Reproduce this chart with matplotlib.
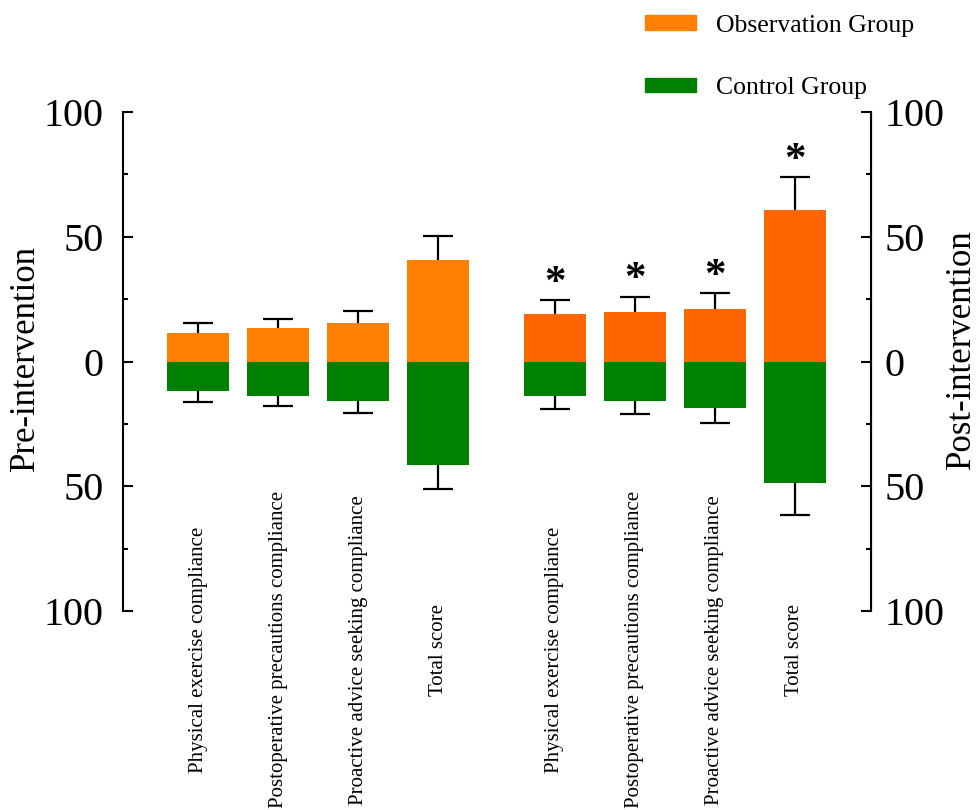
import matplotlib
matplotlib.use("Agg")
import matplotlib.pyplot as plt
import numpy as np
from matplotlib.patches import Patch
from matplotlib.ticker import MultipleLocator

plt.rcParams["font.family"] = ["Liberation Serif", "DejaVu Serif"]

categories = [
    "Physical exercise compliance",
    "Postoperative precautions compliance",
    "Proactive advice seeking compliance",
    "Total score",
]

# means and SD (error bar length)
pre_obs = [11.5, 13.5, 15.6, 40.7]
pre_obs_sd = [4.0, 3.6, 4.7, 9.6]
pre_ctrl = [11.7, 13.7, 15.7, 41.3]
pre_ctrl_sd = [4.6, 4.0, 5.0, 10.0]

post_obs = [19.2, 20.0, 21.1, 60.7]
post_obs_sd = [5.5, 6.0, 6.2, 13.2]
post_ctrl = [14.0, 15.9, 18.7, 48.8]
post_ctrl_sd = [5.1, 5.2, 5.8, 12.8]

post_significant = [True, True, True, True]

yticks = [100, 50, 0, -50, -100]
ytick_labels = ["100", "50", "0", "50", "100"]

PRE_ORANGE = "#ff7f00"
POST_ORANGE = "#ff6600"
GREEN = "#008000"

fig = plt.figure(figsize=(9.77, 8.10), dpi=100)
ax = fig.add_axes([0.1259, 0.2457, 0.7656, 0.616])

n = len(categories)
x_pre = np.arange(n)
x_post = np.arange(n) + n + 0.46
width = 0.775
cap = 0.19


def draw_group(xs, obs, obs_sd, ctrl, ctrl_sd, obs_color):
    obs = np.asarray(obs)
    ctrl = np.asarray(ctrl)
    ax.bar(xs, obs, width=width, color=obs_color, zorder=2)
    ax.bar(xs, -ctrl, width=width, color=GREEN, zorder=2)
    top = obs + np.asarray(obs_sd)
    bot = -ctrl - np.asarray(ctrl_sd)
    ax.vlines(xs, obs, top, color="black", lw=1.6, zorder=1)
    ax.hlines(top, xs - cap, xs + cap, color="black", lw=1.6, zorder=1)
    ax.vlines(xs, -ctrl, bot, color="black", lw=1.6, zorder=1)
    ax.hlines(bot, xs - cap, xs + cap, color="black", lw=1.6, zorder=1)
    return top


draw_group(x_pre, pre_obs, pre_obs_sd, pre_ctrl, pre_ctrl_sd, PRE_ORANGE)
post_top = draw_group(x_post, post_obs, post_obs_sd, post_ctrl, post_ctrl_sd, POST_ORANGE)

for xi, t, sig in zip(x_post, post_top, post_significant):
    if sig:
        ax.annotate("*", (xi, t), xytext=(0, -2), textcoords="offset points",
                    ha="center", va="bottom", fontsize=31, fontweight="bold")

# category labels, rotated, centred below the axis
for xi, lab in zip(np.concatenate([x_pre, x_post]), categories + categories):
    ax.text(xi, -0.078, lab, rotation=90, ha="center", va="center",
            fontsize=15, transform=ax.get_xaxis_transform())

ax.set_xlim(-0.94, 8.41)
ax.set_ylim(-100, 100)
ax.set_xticks([])
for s in ("top", "bottom"):
    ax.spines[s].set_visible(False)

ax2 = ax.twinx()
ax2.set_ylim(-100, 100)
for s in ("top", "bottom", "left"):
    ax2.spines[s].set_visible(False)

for a, side in ((ax, "left"), (ax2, "right")):
    a.spines[side].set_linewidth(1.5)
    a.set_yticks(yticks)
    a.set_yticklabels(ytick_labels)
    a.yaxis.set_minor_locator(MultipleLocator(25))
    a.tick_params(axis="y", which="major", direction="in", length=7, width=1.5,
                  labelsize=29, pad=14 if side == "left" else 10)
    a.tick_params(axis="y", which="minor", direction="in", length=3.5, width=1.5)

ax.set_ylabel("Pre-intervention", fontsize=25)
ax.yaxis.set_label_coords(-0.108, 0.507)
ax2.set_ylabel("Post-intervention", fontsize=25, rotation=90)
ax2.yaxis.set_label_coords(1.099, 0.524)

handles = [Patch(color=PRE_ORANGE), Patch(color=GREEN)]
fig.legend(handles, ["Observation Group", "Control Group"],
           loc="upper left", bbox_to_anchor=(0.66, 0.982), frameon=False,
           fontsize=18.5, handlelength=2.0, handleheight=0.5,
           handletextpad=0.78, labelspacing=1.58, borderpad=0, borderaxespad=0)

fig.savefig("out.png", dpi=100)
